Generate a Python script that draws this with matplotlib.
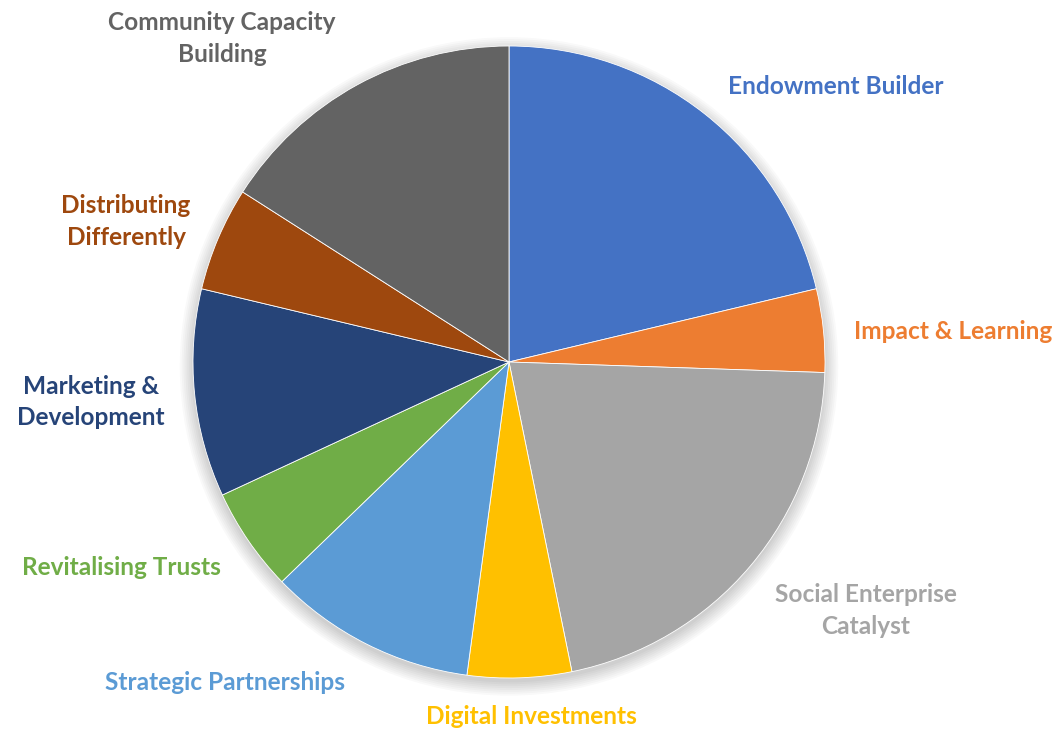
import matplotlib

matplotlib.use("Agg")

import matplotlib.pyplot as plt
from matplotlib.patches import Circle

# slice data (clockwise from 12 o'clock)
categories = [
    "Endowment Builder",
    "Impact & Learning",
    "Social Enterprise\nCatalyst",
    "Digital Investments",
    "Strategic Partnerships",
    "Revitalising Trusts",
    "Marketing &\nDevelopment",
    "Distributing\nDifferently",
    "Community Capacity\nBuilding",
]
values = [20, 4, 20, 5, 10, 5, 10, 5, 15]
colors = [
    "#4472C4", "#ED7D31", "#A5A5A5", "#FFC000", "#5B9BD5",
    "#70AD47", "#264478", "#9E480E", "#636363",
]

# label anchor points, in units of the pie radius
label_pos = [
    (1.035, 0.871),
    (1.405, 0.097),
    (1.130, -0.786),
    (0.070, -1.121),
    (-0.899, -1.013),
    (-1.225, -0.650),
    (-1.323, -0.127),
    (-1.212, 0.445),
    (-0.908, 1.024),
]

fig = plt.figure(figsize=(10.57, 7.30), dpi=100)
ax = fig.add_axes([0, 0, 1, 1])

# soft shadow under the pie
for i in range(8):
    ax.add_patch(
        Circle(
            (0, -0.014),
            1.0 + 0.006 * i,
            facecolor="black",
            alpha=0.022,
            edgecolor="none",
            zorder=0,
        )
    )

ax.pie(
    values,
    colors=colors,
    startangle=90,
    counterclock=False,
    radius=1.0,
    wedgeprops={"edgecolor": "white", "linewidth": 0.6},
)

for name, (x, y), color in zip(categories, label_pos, colors):
    ax.text(
        x,
        y,
        name,
        color=color,
        ha="center",
        va="center",
        fontsize=17.6,
        fontweight="bold",
        family=["Lato", "DejaVu Sans"],
        linespacing=1.45,
    )

ax.set_xlim(-509 / 316, (1057 - 509) / 316)
ax.set_ylim((362 - 730) / 316, 362 / 316)
ax.axis("off")

fig.savefig("out.png", dpi=100)
plt.close(fig)
